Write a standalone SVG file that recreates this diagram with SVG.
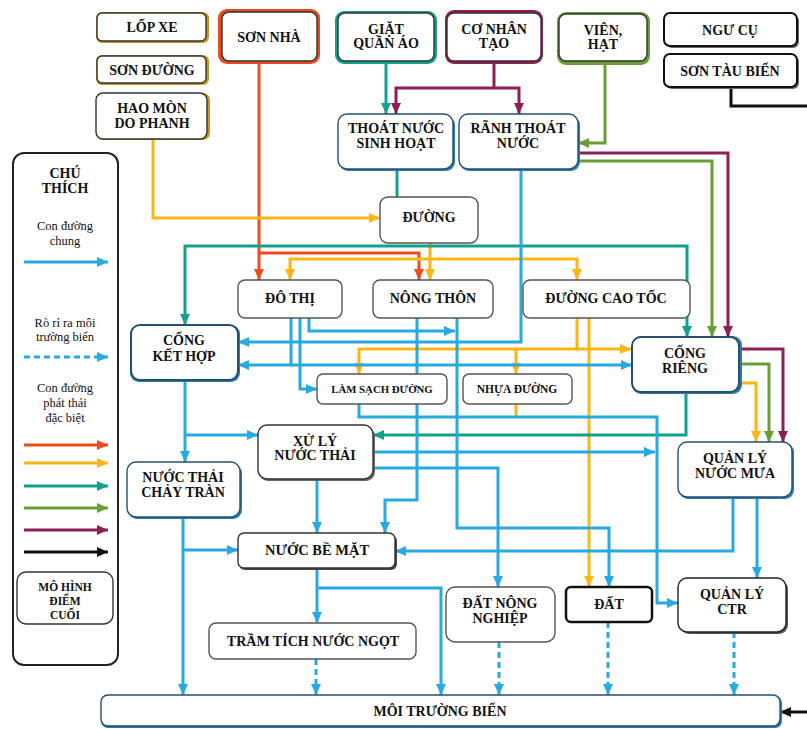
<svg xmlns="http://www.w3.org/2000/svg" width="807" height="729" viewBox="0 0 807 729">
<style>
.n{fill:#fff;stroke:#333;stroke-width:1.4}
.t{font-family:"Liberation Serif","DejaVu Serif",serif;font-weight:bold;font-size:14px;fill:#111;text-anchor:middle}
.s{font-size:11.5px}
.lg{font-family:"Liberation Serif","DejaVu Serif",serif;font-size:12.5px;fill:#111;text-anchor:middle}
.c{fill:none;stroke-width:3;stroke-linejoin:miter}
.b{stroke:#27A9E1}.r{stroke:#EE4B1E}.y{stroke:#FDB515}.e{stroke:#13A08D}.g{stroke:#6A9E35}.m{stroke:#8E1F56}.k{stroke:#111}
.d{stroke-dasharray:6,4}
</style>
<defs>
<marker id="aB" markerUnits="userSpaceOnUse" markerWidth="11" markerHeight="10" refX="11" refY="5" orient="auto"><path d="M0,0L11,5L0,10Z" fill="#27A9E1"/></marker>
<marker id="aR" markerUnits="userSpaceOnUse" markerWidth="11" markerHeight="10" refX="11" refY="5" orient="auto"><path d="M0,0L11,5L0,10Z" fill="#EE4B1E"/></marker>
<marker id="aY" markerUnits="userSpaceOnUse" markerWidth="11" markerHeight="10" refX="11" refY="5" orient="auto"><path d="M0,0L11,5L0,10Z" fill="#FDB515"/></marker>
<marker id="aT" markerUnits="userSpaceOnUse" markerWidth="11" markerHeight="10" refX="11" refY="5" orient="auto"><path d="M0,0L11,5L0,10Z" fill="#13A08D"/></marker>
<marker id="aG" markerUnits="userSpaceOnUse" markerWidth="11" markerHeight="10" refX="11" refY="5" orient="auto"><path d="M0,0L11,5L0,10Z" fill="#6A9E35"/></marker>
<marker id="aM" markerUnits="userSpaceOnUse" markerWidth="11" markerHeight="10" refX="11" refY="5" orient="auto"><path d="M0,0L11,5L0,10Z" fill="#8E1F56"/></marker>
<marker id="aK" markerUnits="userSpaceOnUse" markerWidth="11" markerHeight="10" refX="11" refY="5" orient="auto"><path d="M0,0L11,5L0,10Z" fill="#111"/></marker>
</defs>
<rect width="807" height="729" fill="#fff"/>

<g id="connectors">
<path class="c r" d="M259,64V280" marker-end="url(#aR)"/>
<path class="c r" d="M259,253H419V280" marker-end="url(#aR)"/>
<path class="c y" d="M153,140V218H380" marker-end="url(#aY)"/>
<path class="c y" d="M430,243V280" marker-end="url(#aY)"/>
<path class="c y" d="M430,259H290V280" marker-end="url(#aY)"/>
<path class="c y" d="M430,259H577V280" marker-end="url(#aY)"/>
<path class="c y" d="M577,318V349H631" marker-end="url(#aY)"/>
<path class="c y" d="M577,349H359V374" marker-end="url(#aY)"/>
<path class="c y" d="M516,349V374" marker-end="url(#aY)"/>
<path class="c y" d="M589,318V587" marker-end="url(#aY)"/>
<path class="c y" d="M516,404V417"/>
<path class="c y" d="M740,383H756V442" marker-end="url(#aY)"/>
<path class="c e" d="M386,64V114" marker-end="url(#aT)"/>
<path class="c e" d="M397,169V197"/>
<path class="c e" d="M400,246H185V325" marker-end="url(#aT)"/>
<path class="c e" d="M400,246H687V337" marker-end="url(#aT)"/>
<path class="c e" d="M686,392V435H373" marker-end="url(#aT)"/>
<path class="c g" d="M605,64V143H578" marker-end="url(#aG)"/>
<path class="c g" d="M578,161H712V337" marker-end="url(#aG)"/>
<path class="c g" d="M740,364H769V442" marker-end="url(#aG)"/>
<path class="c m" d="M494,64V88"/>
<path class="c m" d="M494,88H396V114" marker-end="url(#aM)"/>
<path class="c m" d="M494,88H519V114" marker-end="url(#aM)"/>
<path class="c m" d="M578,153H728V337" marker-end="url(#aM)"/>
<path class="c m" d="M740,349H783V442" marker-end="url(#aM)"/>
<path class="c k" d="M731,87V106H807"/>
<path class="c k" d="M807,712H780" marker-end="url(#aK)"/>
<path class="c b" d="M521,169V342H238" marker-end="url(#aB)"/>
<path class="c b" d="M291,318V365H238" marker-end="url(#aB)"/>
<path class="c b" d="M291,365H632" marker-end="url(#aB)"/>
<path class="c b" d="M300,318V389H317" marker-end="url(#aB)"/>
<path class="c b" d="M309,318V331H455" marker-end="url(#aB)"/>
<path class="c b" d="M417,318V500H385V533" marker-end="url(#aB)"/>
<path class="c b" d="M457,318V528H609V587" marker-end="url(#aB)"/>
<path class="c b" d="M359,404V417H657V603H678" marker-end="url(#aB)"/>
<path class="c b" d="M373,452H655" marker-end="url(#aB)"/>
<path class="c b" d="M373,468H498V587" marker-end="url(#aB)"/>
<path class="c b" d="M317,479V533" marker-end="url(#aB)"/>
<path class="c b" d="M185,380V462" marker-end="url(#aB)"/>
<path class="c b" d="M185,435H258" marker-end="url(#aB)"/>
<path class="c b" d="M183,517V695" marker-end="url(#aB)"/>
<path class="c b" d="M183,550H238" marker-end="url(#aB)"/>
<path class="c b" d="M317,568V623" marker-end="url(#aB)"/>
<path class="c b" d="M317,588H441V695" marker-end="url(#aB)"/>
<path class="c b" d="M733,497V551H395" marker-end="url(#aB)"/>
<path class="c b" d="M757,497V578" marker-end="url(#aB)"/>
<path class="c b d" d="M316,659V695" marker-end="url(#aB)"/>
<path class="c b d" d="M499,642V695" marker-end="url(#aB)"/>
<path class="c b d" d="M608,622V695" marker-end="url(#aB)"/>
<path class="c b d" d="M734,632V695" marker-end="url(#aB)"/>
</g>

<g id="lop-xe"><rect x="96" y="12" width="113" height="31" rx="6" fill="#C8961E"/><rect class="n" x="97" y="13" width="109" height="28" rx="5"/><text class="t" x="152" y="32">LỐP XE</text></g>
<g id="son-duong"><rect x="96" y="55" width="113" height="30" rx="6" fill="#C8961E"/><rect class="n" x="97" y="56" width="109" height="27" rx="5"/><text class="t" x="152" y="75">SƠN ĐƯỜNG</text></g>
<g id="hao-mon"><rect x="96" y="93" width="114" height="47" rx="7" fill="#C8961E"/><rect class="n" x="96" y="93" width="111" height="46" rx="7"/><text class="t" x="152" y="113">HAO MÒN</text><text class="t" x="152" y="128">DO PHANH</text></g>
<g id="son-nha"><rect x="218" y="9" width="102" height="55" rx="9" fill="#E84C1E"/><rect class="n" x="222" y="12" width="95" height="49" rx="7"/><text class="t" x="269" y="42">SƠN NHÀ</text></g>
<g id="giat"><rect x="335" y="11" width="102" height="53" rx="9" fill="#13A08D"/><rect class="n" x="338" y="13" width="96" height="48" rx="7"/><text class="t" x="386" y="34">GIẶT</text><text class="t" x="386" y="48">QUẦN ÁO</text></g>
<g id="co-nhan-tao"><rect x="445" y="10" width="98" height="54" rx="9" fill="#8E1F56"/><rect class="n" x="447" y="13" width="94" height="48" rx="7"/><text class="t" x="494" y="34">CƠ NHÂN</text><text class="t" x="494" y="48">TẠO</text></g>
<g id="vien-hat"><rect x="557" y="12" width="93" height="53" rx="9" fill="#6A9E35"/><rect class="n" x="559" y="14" width="88" height="47" rx="7"/><text class="t" x="603" y="35">VIÊN,</text><text class="t" x="603" y="49">HẠT</text></g>
<g id="ngu-cu"><rect x="666" y="15" width="133" height="33" rx="6" fill="#666"/><rect class="n" x="664" y="13" width="133" height="33" rx="6" style="stroke:#111;stroke-width:2"/><text class="t" x="730" y="35">NGƯ CỤ</text></g>
<g id="son-tau-bien"><rect x="666" y="56" width="133" height="33" rx="6" fill="#666"/><rect class="n" x="664" y="54" width="133" height="33" rx="6" style="stroke:#111;stroke-width:2"/><text class="t" x="730" y="76">SƠN TÀU BIỂN</text></g>

<g id="thoat-nuoc-sinh-hoat"><rect x="339" y="116" width="116" height="55" rx="9" fill="#2A7AB0"/><rect class="n" x="338" y="114" width="115" height="55" rx="9" style="stroke:#24506E"/><text class="t" x="396" y="133">THOÁT NƯỚC</text><text class="t" x="396" y="148">SINH HOẠT</text></g>
<g id="ranh-thoat-nuoc"><rect x="460" y="116" width="120" height="55" rx="9" fill="#2A7AB0"/><rect class="n" x="459" y="114" width="119" height="55" rx="9" style="stroke:#24506E"/><text class="t" x="518" y="133">RÃNH THOÁT</text><text class="t" x="518" y="148">NƯỚC</text></g>
<g id="duong"><rect class="n" x="380" y="197" width="98" height="46" rx="8" style="stroke:#555"/><text class="t" x="429" y="222">ĐƯỜNG</text></g>
<g id="do-thi"><rect class="n" x="238" y="280" width="104" height="38" rx="7" style="stroke:#555"/><text class="t" x="290" y="303">ĐÔ THỊ</text></g>
<g id="nong-thon"><rect class="n" x="373" y="280" width="120" height="38" rx="7" style="stroke:#555"/><text class="t" x="433" y="303">NÔNG THÔN</text></g>
<g id="duong-cao-toc"><rect class="n" x="523" y="280" width="167" height="38" rx="7" style="stroke:#555"/><text class="t" x="606" y="303">ĐƯỜNG CAO TỐC</text></g>
<g id="cong-ket-hop"><rect x="130" y="325" width="110" height="57" rx="9" fill="#2A7AB0"/><rect class="n" x="131" y="325" width="107" height="55" rx="9" style="stroke:#24506E;stroke-width:2"/><text class="t" x="184" y="345">CỐNG</text><text class="t" x="184" y="361">KẾT HỢP</text></g>
<g id="cong-rieng"><rect x="632" y="336" width="110" height="58" rx="9" fill="#2A7AB0"/><rect class="n" x="632" y="337" width="107" height="55" rx="9" style="stroke:#24506E;stroke-width:2"/><text class="t" x="685" y="358">CỐNG</text><text class="t" x="685" y="373">RIÊNG</text></g>
<g id="lam-sach-duong"><rect class="n" x="317" y="374" width="130" height="30" rx="6" style="stroke:#555"/><text class="t s" x="382" y="393" style="font-size:10.8px">LÀM SẠCH ĐƯỜNG</text></g>
<g id="nhua-duong"><rect class="n" x="463" y="374" width="109" height="30" rx="6" style="stroke:#555"/><text class="t s" x="517" y="393">NHỰA ĐƯỜNG</text></g>
<g id="xu-ly-nuoc-thai"><rect x="259" y="427" width="116" height="54" rx="9" fill="#666"/><rect class="n" x="258" y="425" width="115" height="54" rx="9"/><text class="t" x="315" y="446">XỬ LÝ</text><text class="t" x="315" y="460">NƯỚC THẢI</text></g>
<g id="nuoc-thai-chay-tran"><rect x="128" y="464" width="114" height="55" rx="9" fill="#2A7AB0"/><rect class="n" x="127" y="462" width="113" height="55" rx="9" style="stroke:#24506E"/><text class="t" x="183" y="482">NƯỚC THẢI</text><text class="t" x="183" y="497">CHẢY TRÀN</text></g>
<g id="quan-ly-nuoc-mua"><rect x="679" y="443" width="115" height="56" rx="9" fill="#2A7AB0"/><rect class="n" x="678" y="442" width="114" height="55" rx="9" style="stroke:#24506E"/><text class="t" x="735" y="463">QUẢN LÝ</text><text class="t" x="735" y="478">NƯỚC MƯA</text></g>
<g id="nuoc-be-mat"><rect x="239" y="535" width="158" height="35" rx="6" fill="#444"/><rect class="n" x="238" y="533" width="157" height="35" rx="6"/><text class="t" x="317" y="555" style="font-size:14.5px">NƯỚC BỀ MẶT</text></g>
<g id="dat-nong-nghiep"><rect class="n" x="446" y="587" width="109" height="55" rx="9" style="stroke:#555"/><text class="t" x="500" y="608">ĐẤT NÔNG</text><text class="t" x="500" y="623">NGHIỆP</text></g>
<g id="dat"><rect class="n" x="566" y="587" width="86" height="35" rx="5" style="stroke:#111;stroke-width:2.5"/><text class="t" x="609" y="609">ĐẤT</text></g>
<g id="quan-ly-ctr"><rect x="680" y="580" width="108" height="54" rx="9" fill="#555"/><rect class="n" x="678" y="578" width="108" height="54" rx="9" style="stroke:#222"/><text class="t" x="732" y="599">QUẢN LÝ</text><text class="t" x="732" y="614">CTR</text></g>
<g id="tram-tich"><rect class="n" x="209" y="623" width="207" height="36" rx="7" style="stroke:#555"/><text class="t" x="313" y="646">TRẦM TÍCH NƯỚC NGỌT</text></g>
<g id="moi-truong-bien"><rect x="101" y="696" width="681" height="32" rx="7" fill="#2A7AB0"/><rect class="n" x="101" y="695" width="679" height="31" rx="7" style="stroke:#24506E"/><text class="t" x="440" y="716">MÔI TRƯỜNG BIỂN</text></g>

<g id="legend">
<rect x="13" y="153" width="105" height="512" rx="11" fill="#fff" stroke="#222" stroke-width="2"/>
<text class="t" x="65" y="178">CHÚ</text><text class="t" x="65" y="193">THÍCH</text>
<text class="lg" x="65" y="230">Con đường</text><text class="lg" x="65" y="245">chung</text>
<path class="c b" d="M24,262H108" marker-end="url(#aB)"/>
<text class="lg" x="65" y="327">Rò rỉ ra môi</text><text class="lg" x="65" y="341">trường biển</text>
<path class="c b d" d="M24,357H108" marker-end="url(#aB)"/>
<text class="lg" x="65" y="392">Con đường</text><text class="lg" x="65" y="407">phát thải</text><text class="lg" x="65" y="422">đặc biệt</text>
<path class="c r" d="M24,445H108" marker-end="url(#aR)"/>
<path class="c y" d="M24,463H108" marker-end="url(#aY)"/>
<path class="c e" d="M24,486H108" marker-end="url(#aT)"/>
<path class="c g" d="M24,508H108" marker-end="url(#aG)"/>
<path class="c m" d="M24,530H108" marker-end="url(#aM)"/>
<path class="c k" d="M24,552H108" marker-end="url(#aK)"/>
<rect class="n" x="17" y="572" width="96" height="52" rx="9"/>
<text class="t s" x="65" y="591">MÔ HÌNH</text><text class="t s" x="65" y="605">ĐIỂM</text><text class="t s" x="65" y="619">CUỐI</text>
</g>
</svg>
